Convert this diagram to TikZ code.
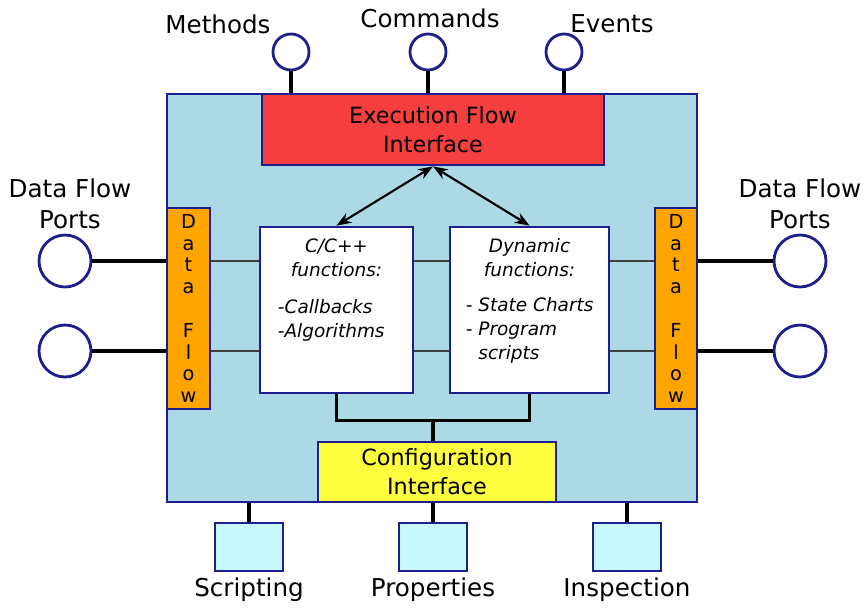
\documentclass[tikz,border=0pt]{standalone}
\usepackage{fontspec}
\setmainfont{DejaVu Sans}
\usetikzlibrary{arrows.meta,calc}

\definecolor{edge}{RGB}{30,30,140}
\definecolor{shell}{RGB}{173,216,230}
\definecolor{execred}{RGB}{245,62,62}
\definecolor{flowor}{RGB}{255,165,0}
\definecolor{cfgyel}{RGB}{255,255,64}
\definecolor{ifcyan}{RGB}{200,248,255}

\begin{document}
\begin{tikzpicture}[x=0.02cm,y=-0.02cm,>=Stealth,
    box/.style={draw=edge,line width=1.6pt,inner sep=0pt},
    port/.style={circle,draw=edge,fill=white,line width=1.6pt,inner sep=0pt},
    wire/.style={line width=2pt},
    link/.style={line width=1pt,draw=black!75},
    lbl/.style={font=\fontsize{14}{18}\selectfont,align=center,inner sep=0pt},
    ifc/.style={font=\fontsize{12.7}{16.4}\selectfont,align=center},
    fn/.style={font=\fontsize{10.5}{13.6}\selectfont\itshape,inner sep=0pt}]
    \useasboundingbox (0,0) rectangle (865,609);
    \node[box,fill=shell,minimum width=10.6cm,minimum height=8.16cm] (main) at (432,298) {};
    \node[box,fill=execred,minimum width=6.84cm,minimum height=1.42cm,ifc] (exec) at (433,129.5) {Execution Flow\\Interface};
    \node[box,fill=flowor,minimum width=0.86cm,minimum height=4.02cm,font=\fontsize{11}{12.4}\selectfont,align=center] (lbar) at (188.5,308.5) {D\\a\\t\\a\\[12.4pt]F\\l\\o\\w};
    \node[box,fill=flowor,minimum width=0.84cm,minimum height=4.02cm,font=\fontsize{11}{12.4}\selectfont,align=center] (rbar) at (676,308.5) {D\\a\\t\\a\\[12.4pt]F\\l\\o\\w};
    \node[box,fill=white,minimum width=3.06cm,minimum height=3.32cm] (cbox) at (336.5,310) {};
    \node[box,fill=white,minimum width=3.18cm,minimum height=3.32cm] (dbox) at (529.5,310) {};
    \node[box,fill=cfgyel,minimum width=4.76cm,minimum height=1.2cm,ifc] (cfg) at (437,472) {Configuration\\Interface};

    \node[fn,align=center,anchor=north] (chead) at ($(cbox.north)+(0,13)$) {C/C++\\functions:};
    \node[fn,align=left,anchor=north west] (clist) at ($(cbox.north west)+(19,74)$) {-Callbacks\\-Algorithms};
    \node[fn,align=center,anchor=north] (dhead) at ($(dbox.north)+(0,13)$) {Dynamic\\functions:};
    \node[fn,align=left,anchor=north west] (dlist) at ($(dbox.north west)+(17,72)$) {- State Charts\\- Program\\\phantom{- }scripts};

    \node[port,minimum size=0.72cm] (mth) at (291,52) {};
    \node[port,minimum size=0.72cm] (cmd) at (428,52) {};
    \node[port,minimum size=0.72cm] (evt) at (564,52) {};
    \node[lbl] (mthl) at (218,24) {Methods};
    \node[lbl] (cmdl) at (430,18) {Commands};
    \node[lbl] (evtl) at (612,24) {Events};
    \draw[wire] (mth.south) -- (mth.south |- exec.north);
    \draw[wire] (cmd.south) -- (cmd.south |- exec.north);
    \draw[wire] (evt.south) -- (evt.south |- exec.north);

    \node[port,minimum size=1.04cm] (dl1) at (65,261) {};
    \node[port,minimum size=1.04cm] (dl2) at (65,351) {};
    \node[port,minimum size=1.04cm] (dr1) at (800,261) {};
    \node[port,minimum size=1.04cm] (dr2) at (800,351) {};
    \node[lbl] (dll) at (70,204) {Data Flow\\Ports};
    \node[lbl] (drl) at (800,204) {Data Flow\\Ports};
    \draw[wire] (dl1.east) -- (dl1.east -| lbar.west);
    \draw[wire] (dl2.east) -- (dl2.east -| lbar.west);
    \draw[wire] (dr1.west) -- (dr1.west -| rbar.east);
    \draw[wire] (dr2.west) -- (dr2.west -| rbar.east);

    \draw[link] (lbar.east |- dl1) -- (cbox.west |- dl1);
    \draw[link] (lbar.east |- dl2) -- (cbox.west |- dl2);
    \draw[link] (cbox.east |- dl1) -- (dbox.west |- dl1);
    \draw[link] (cbox.east |- dl2) -- (dbox.west |- dl2);
    \draw[link] (dbox.east |- dr1) -- (rbar.west |- dr1);
    \draw[link] (dbox.east |- dr2) -- (rbar.west |- dr2);

    \draw[<->,line width=1.2pt] (cbox.north) -- (exec.south);
    \draw[<->,line width=1.2pt] (dbox.north) -- (exec.south);

    \draw[wire] (cbox.south) -- ++(0,26) coordinate (brk) -| (dbox.south);
    \draw[wire] ($(cfg.north)+(-4,0)$) -- ($(cfg.north |- brk)+(-4,0)$);

    \node[box,fill=ifcyan,minimum width=1.36cm,minimum height=0.96cm] (scr) at (249,547) {};
    \node[box,fill=ifcyan,minimum width=1.36cm,minimum height=0.96cm] (prp) at (433,547) {};
    \node[box,fill=ifcyan,minimum width=1.36cm,minimum height=0.96cm] (ins) at (627,547) {};
    \node[lbl] (scrl) at (249,590) {Scripting};
    \node[lbl] (prpl) at (433,590) {Properties};
    \node[lbl] (insl) at (627,590) {Inspection};
    \draw[wire] (scr.north) -- (scr.north |- main.south);
    \draw[wire] (prp.north) -- (prp.north |- main.south);
    \draw[wire] (ins.north) -- (ins.north |- main.south);
  \end{tikzpicture}
\end{document}
